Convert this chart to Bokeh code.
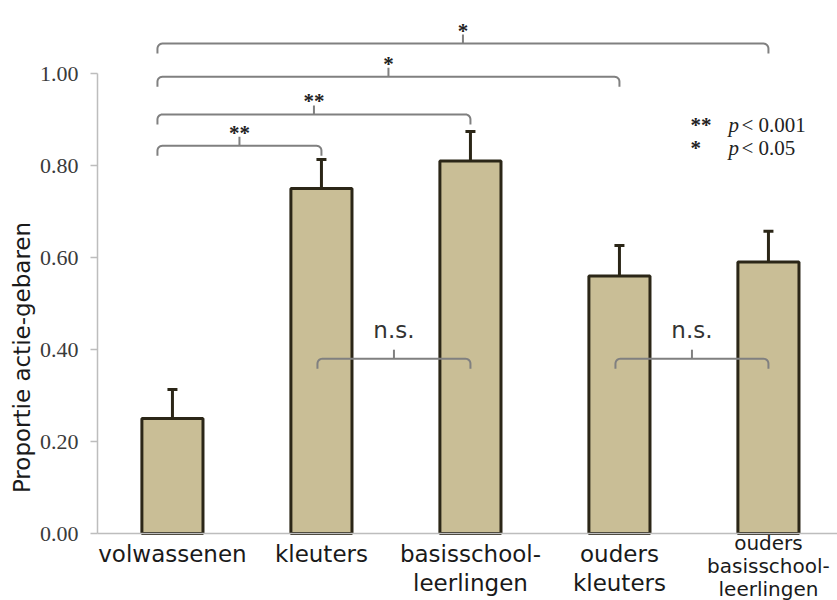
import math
from bokeh.plotting import figure
from bokeh.models import Range1d, FixedTicker, Label, ColumnDataSource
from bokeh.core.properties import value
from bokeh.embed import file_html
from bokeh.resources import INLINE

# ---------------- data ----------------
GROUPS = ["volwassenen", "kleuters", "basisschool-\nleerlingen",
          "ouders\nkleuters", "ouders\nbasisschool-\nleerlingen"]
PROPORTION = [0.25, 0.75, 0.81, 0.56, 0.59]
ERROR = [0.063, 0.063, 0.064, 0.066, 0.067]
Y_TICKS = [0.0, 0.2, 0.4, 0.6, 0.8, 1.0]
Y_TICK_LABELS = ["0.00", "0.20", "0.40", "0.60", "0.80", "1.00"]
Y_LABEL = "Proportie actie-gebaren"
CMP_FROM = [0, 0, 0, 0, 1, 3]
CMP_TO = [1, 2, 3, 4, 2, 4]
CMP_LEVEL = [0.843, 0.911, 0.993, 1.065, 0.380, 0.380]
CMP_MARK = ["**", "**", "*", "*", "n.s.", "n.s."]
LEGEND_MARK = ["**", "*"]
LEGEND_TEXT = ["< 0.001", "< 0.05"]

# ---------------- layout (page pixels) ----------------
W, H = 837, 600
PAGE_L, PAGE_T = 0, 0
AXIS_X = 97          # page x of the value axis
AXIS_Y = 533         # page y of the zero line
PX_PER_CAT = 149.0
PX_PER_UNIT = 460.0
X0 = -0.503          # data x at the value axis
px = 1.0 / PX_PER_CAT
py = 1.0 / PX_PER_UNIT

def dx(page_x):
    return X0 + (page_x - AXIS_X) * px

def dy(page_y):
    return (AXIS_Y - page_y) * py

X_START, X_END = dx(PAGE_L), dx(PAGE_L + W)
Y_START, Y_END = dy(PAGE_T + H), dy(PAGE_T)

BAR_FILL = "#c9be96"
BAR_LINE = "#2b2617"
BRACKET_COLOR = "#808080"
AXIS_COLOR = "#bdbdbd"
SANS = "DejaVu Sans"
SERIF = "Liberation Serif"

p = figure(width=W, height=H, output_backend="svg", toolbar_location=None,
           x_range=Range1d(X_START, X_END), y_range=Range1d(Y_START, Y_END),
           min_border=0)
p.outline_line_color = None
p.xgrid.visible = False
p.ygrid.visible = False
p.background_fill_color = "white"

idx = list(range(len(GROUPS)))
tops = [v + e for v, e in zip(PROPORTION, ERROR)]
src = ColumnDataSource(dict(x=idx, top=PROPORTION, etop=tops,
                            cl=[i - 5 * px for i in idx], cr=[i + 5 * px for i in idx]))

p.segment(x0="x", y0="top", x1="x", y1="etop", source=src, line_color=BAR_LINE, line_width=3)
p.segment(x0="cl", y0="etop", x1="cr", y1="etop", source=src, line_color=BAR_LINE, line_width=3)
p.vbar(x="x", top="top", bottom=0, width=0.41, source=src,
       fill_color=BAR_FILL, line_color=BAR_LINE, line_width=3)

# ---------------- comparison brackets ----------------
D, R, T = 10, 5, 9
paths_x, paths_y = [], []
tick_x, tick_y0, tick_y1 = [], [], []
star_x, star_y, star_t = [], [], []
ns_x, ns_y, ns_t = [], [], []
for a, b, lvl, mark in zip(CMP_FROM, CMP_TO, CMP_LEVEL, CMP_MARK):
    x0 = a - (15 if a == 0 else 4) * px
    x1 = b
    xs, ys = [x0], [lvl - D * py]
    for k in range(7):
        t = k / 6 * math.pi / 2
        xs.append(x0 + R * px * (1 - math.cos(t)))
        ys.append(lvl - R * py * (1 - math.sin(t)))
    for k in range(6, -1, -1):
        t = k / 6 * math.pi / 2
        xs.append(x1 - R * px * (1 - math.cos(t)))
        ys.append(lvl - R * py * (1 - math.sin(t)))
    xs.append(x1)
    ys.append(lvl - D * py)
    paths_x.append(xs)
    paths_y.append(ys)
    xm = (x0 + x1) / 2
    tick_x.append(xm)
    tick_y0.append(lvl)
    tick_y1.append(lvl + T * py)
    if mark.startswith("*"):
        star_x.append(xm); star_y.append(lvl + 13 * py); star_t.append(mark)
    else:
        ns_x.append(xm); ns_y.append(lvl + 29 * py); ns_t.append(mark)

p.multi_line(xs=paths_x, ys=paths_y, line_color=BRACKET_COLOR, line_width=2)
p.segment(x0=tick_x, y0=tick_y0, x1=tick_x, y1=tick_y1, line_color=BRACKET_COLOR, line_width=2)
p.text(x=star_x, y=star_y, text=star_t, text_font=value(SERIF), text_font_size="21px",
       text_font_style="bold", text_align="center", text_baseline="alphabetic", text_color="#222222")
p.text(x=ns_x, y=ns_y, text=ns_t, text_font=value(SANS), text_font_size="23px",
       text_align="center", text_baseline="alphabetic", text_color="#333333")

# ---------------- legend ----------------
for row, (m, txt) in enumerate(zip(LEGEND_MARK, LEGEND_TEXT)):
    base = 124 + row * 23
    p.add_layout(Label(x=dx(690), y=dy(base), text=m, text_font=SERIF, text_font_size="21px",
                       text_font_style="bold", text_baseline="alphabetic", text_color="#222222"))
    p.add_layout(Label(x=dx(728), y=dy(base), text="p", text_font=SERIF, text_font_size="21px",
                       text_font_style="italic", text_baseline="alphabetic", text_color="#222222"))
    p.add_layout(Label(x=dx(741), y=dy(base), text=txt, text_font=SERIF, text_font_size="21px",
                       text_baseline="alphabetic", text_color="#222222"))

# ---------------- category labels ----------------
lab_x, lab_y, lab_t, lab_s = [], [], [], []
for i, g in enumerate(GROUPS):
    lines = g.split("\n")
    if len(lines) == 3:
        offs, size = [9, 32, 55], "20px"
    else:
        offs, size = [20, 49], "23px"
    for ln, off in zip(lines, offs):
        lab_x.append(i); lab_y.append(-off * py); lab_t.append(ln); lab_s.append(size)
p.text(x=lab_x, y=lab_y, text=lab_t, text_font_size=lab_s, text_font=value(SANS),
       text_align="center", text_baseline="middle", text_color="#1a1a1a")

# value-axis title
p.text(x=[dx(21)], y=[dy(357)], text=[Y_LABEL], angle=math.pi / 2, text_font=value(SANS),
       text_font_size="23px", text_align="center", text_baseline="middle", text_color="#1a1a1a")

# ---------------- axes ----------------
p.yaxis.fixed_location = X0
p.yaxis.ticker = FixedTicker(ticks=Y_TICKS)
p.yaxis.major_label_overrides = {t: l for t, l in zip(Y_TICKS, Y_TICK_LABELS)}
p.yaxis.bounds = (0, 1)
p.yaxis.axis_line_color = AXIS_COLOR
p.yaxis.axis_line_width = 1.5
p.yaxis.major_tick_line_color = AXIS_COLOR
p.yaxis.major_tick_line_width = 1.5
p.yaxis.major_tick_in = 0
p.yaxis.major_tick_out = 7
p.yaxis.minor_tick_line_color = None
p.yaxis.major_label_standoff = 12
p.yaxis.major_label_text_font = SERIF
p.yaxis.major_label_text_font_size = "22px"
p.yaxis.major_label_text_color = "#3a3a3a"

p.xaxis.fixed_location = 0
p.xaxis.bounds = (X0, X_END)
p.xaxis.ticker = FixedTicker(ticks=[])
p.xaxis.axis_line_color = AXIS_COLOR
p.xaxis.axis_line_width = 1.5
p.xaxis.major_tick_line_color = None
p.xaxis.minor_tick_line_color = None
p.xaxis.major_label_text_font_size = "0px"

open("out.html", "w").write(file_html(p, INLINE))
